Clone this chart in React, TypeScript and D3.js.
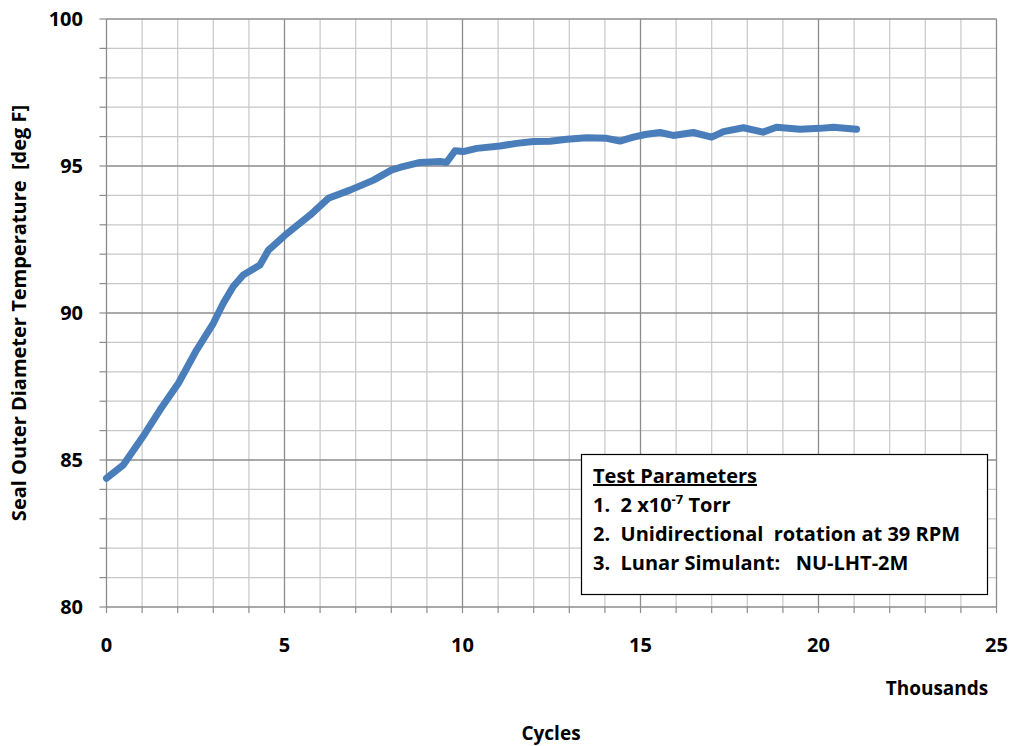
import React from "react";
import * as d3 from "d3";

// cycles (thousands) and seal OD temperature (deg F)
const cycles = [0, 0.47, 1.02, 1.5, 2.02, 2.53, 3.0, 3.28, 3.56, 3.84, 4.31, 4.55, 5.02, 5.72, 6.23, 6.84, 7.5, 8.0, 8.24, 8.81, 9.37, 9.55, 9.79, 10.02, 10.4, 11.05, 11.52, 11.99, 12.46, 12.93, 13.49, 14.05, 14.42, 14.8, 15.17, 15.55, 15.92, 16.48, 17.0, 17.33, 17.89, 18.44, 18.82, 19.48, 20.04, 20.42, 21.07];
const temps = [84.38, 84.83, 85.79, 86.7, 87.61, 88.74, 89.65, 90.33, 90.9, 91.29, 91.63, 92.14, 92.65, 93.33, 93.9, 94.18, 94.52, 94.86, 94.95, 95.12, 95.15, 95.12, 95.52, 95.49, 95.6, 95.68, 95.77, 95.83, 95.84, 95.91, 95.96, 95.94, 95.85, 95.98, 96.08, 96.14, 96.04, 96.14, 95.98, 96.17, 96.3, 96.15, 96.32, 96.25, 96.28, 96.32, 96.25];

const xTicks = [0, 5, 10, 15, 20, 25];
const yTicks = [80, 85, 90, 95, 100];
const legendLines = ["1.  2 x10", "2.  Unidirectional  rotation at 39 RPM", "3.  Lunar Simulant:   NU-LHT-2M"];

const W = 1013;
const H = 746;
const left = 106.5;
const right = 996.5;
const top = 19;
const bottom = 607;
const font = "'Open Sans', Lato, sans-serif";

export default function App() {
  const x = d3.scaleLinear().domain([0, 25]).range([left, right]);
  const y = d3.scaleLinear().domain([80, 100]).range([bottom, top]);

  const pts = cycles.map((c, i) => [c, temps[i]] as [number, number]);
  const line = d3.line<[number, number]>().x(d => x(d[0])).y(d => y(d[1]));

  const minorX = d3.range(0, 26, 1);
  const minorY = d3.range(80, 101, 1);

  return (
    <svg width={W} height={H} style={{ position: "absolute", left: 0, top: 0, background: "#fff" }}>
      {/* minor grid */}
      {minorX.filter(v => v % 5 !== 0).map(v => (
        <line key={"gx" + v} x1={x(v)} x2={x(v)} y1={top} y2={bottom} stroke="#c8c8c8" strokeWidth={1.2} />
      ))}
      {minorY.filter(v => v % 5 !== 0).map(v => (
        <line key={"gy" + v} x1={left} x2={right} y1={y(v)} y2={y(v)} stroke="#c8c8c8" strokeWidth={1.2} />
      ))}
      {/* major grid */}
      {xTicks.map(v => (
        <line key={"Gx" + v} x1={x(v)} x2={x(v)} y1={top} y2={bottom} stroke="#8c8c8c" strokeWidth={1.3} />
      ))}
      {yTicks.map(v => (
        <line key={"Gy" + v} x1={left} x2={right} y1={y(v)} y2={y(v)} stroke="#8c8c8c" strokeWidth={1.3} />
      ))}
      {/* tick marks */}
      {minorX.map(v => (
        <line key={"tx" + v} x1={x(v)} x2={x(v)} y1={bottom} y2={bottom + 6} stroke="#8c8c8c" strokeWidth={1.2} />
      ))}
      {minorY.map(v => (
        <line key={"ty" + v} x1={left - 7} x2={left} y1={y(v)} y2={y(v)} stroke="#8c8c8c" strokeWidth={1.2} />
      ))}

      {/* data */}
      <path d={line(pts) || ""} fill="none" stroke="#4a7ebb" strokeWidth={7} strokeLinejoin="round" strokeLinecap="round" />

      {/* tick labels */}
      {yTicks.map(v => (
        <text key={"ly" + v} x={83} y={y(v)} dy="0.35em" textAnchor="end" fontFamily={font} fontWeight="bold" fontSize={20}>{v}</text>
      ))}
      {xTicks.map(v => (
        <text key={"lx" + v} x={x(v)} y={645} dy="0.35em" textAnchor="middle" fontFamily={font} fontWeight="bold" fontSize={20}>{v}</text>
      ))}

      {/* axis titles */}
      <text x={937} y={688} dy="0.35em" textAnchor="middle" fontFamily={font} fontWeight="bold" fontSize={19}>Thousands</text>
      <text x={551} y={733} dy="0.35em" textAnchor="middle" fontFamily={font} fontWeight="bold" fontSize={19}>Cycles</text>
      <text transform={`translate(19, 313) rotate(-90)`} textAnchor="middle" dy="0.35em" fontFamily={font} fontWeight="bold" fontSize={20} xmlSpace="preserve">
        Seal Outer Diameter Temperature  [deg F]
      </text>

      {/* legend box */}
      <rect x={581.5} y={454.5} width={406} height={140} fill="#fff" stroke="#000" strokeWidth={1.2} />
      <text x={593} y={483} fontFamily={font} fontWeight="bold" fontSize={20} textDecoration="underline">Test Parameters</text>
      <text x={593} y={512} fontFamily={font} fontWeight="bold" fontSize={20} xmlSpace="preserve">
        {legendLines[0]}
        <tspan fontSize={13} dy={-8}>-7</tspan>
        <tspan dy={8}> Torr</tspan>
      </text>
      <text x={593} y={541} fontFamily={font} fontWeight="bold" fontSize={20} xmlSpace="preserve">{legendLines[1]}</text>
      <text x={593} y={570} fontFamily={font} fontWeight="bold" fontSize={20} xmlSpace="preserve">{legendLines[2]}</text>
    </svg>
  );
}
